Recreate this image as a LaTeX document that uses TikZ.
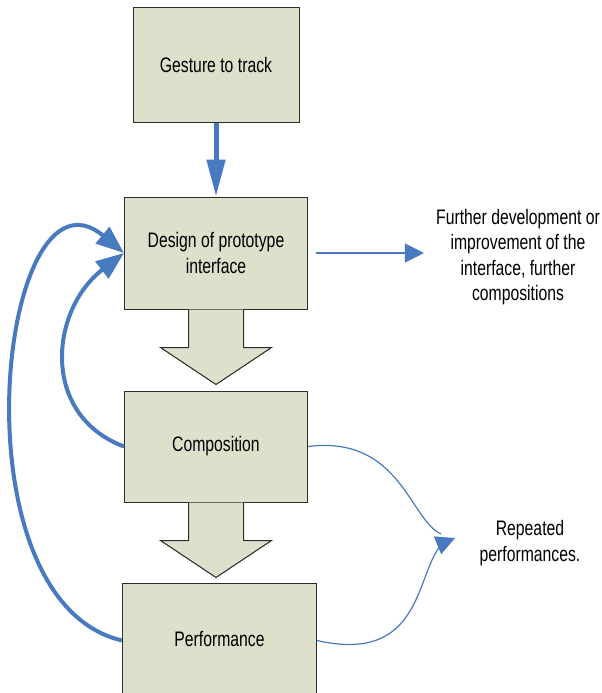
\documentclass[tikz,border=0pt]{standalone}
\usepackage{fontspec}
\setmainfont{Liberation Sans}
\usepackage{graphicx}
\usepackage{tikz}
\usetikzlibrary{positioning,arrows.meta,calc}
\definecolor{boxfill}{RGB}{221,224,203}
\definecolor{boxline}{RGB}{45,45,45}
\definecolor{flowblue}{RGB}{72,122,192}
\newcommand{\nw}[1]{\scalebox{0.75}[1]{#1}}
\tikzset{
  blk/.style   ={draw=boxline,fill=boxfill,line width=1pt,align=center,font=\fontsize{21}{25.5}\selectfont,inner sep=0pt},
  txt/.style   ={align=center,font=\fontsize{21}{25.5}\selectfont,inner sep=0pt},
  blkar/.style ={draw=boxline,fill=boxfill,line width=1pt,line join=miter},
  bar/.style   ={-{Triangle[length=37pt,width=18pt]},draw=flowblue,line width=5pt},
  ar/.style    ={-{Triangle[length=28pt,width=21pt]},draw=flowblue,line width=4pt},
  thinar/.style={-{Triangle[length=19pt,width=19pt]},draw=flowblue,line width=1.2pt},
}
\begin{document}
\begin{tikzpicture}[x=1pt,y=-1pt]
\useasboundingbox (0,0) rectangle (602,693);
\node[blk,minimum width=166pt,minimum height=114pt] (gest) at (216,65) {\nw{Gesture to track}};
\node[blk,minimum width=183pt,minimum height=112pt,below=74pt of gest] (des) {\nw{Design of prototype}\\\nw{interface}};
\node[blk,minimum width=183pt,minimum height=111pt,below=81pt of des] (comp) {\nw{Composition}};
\node[blk,minimum width=194pt,minimum height=125pt,text depth=14pt,below=80pt of comp,xshift=3.5pt] (perf) {\nw{Performance}};
\node[txt] (fut) at (518,257) {\nw{Further development or}\\\nw{improvement of the}\\\nw{interface, further}\\\nw{compositions}};
\coordinate (mrg) at (455,538);
\node[txt] (rep) at (530,543) {\nw{Repeated}\\\nw{performances.}};
% block arrows between the stages
\foreach \a in {des,comp}
  \draw[blkar] ($(\a.south)+(-27.5,0)$) -- ++(0,38) -- ++(-28,0) -- ($(\a.south)+(0,75)$)
    -- ($(\a.south)+(55.5,38)$) -- ++(-28,0) -- ($(\a.south)+(27.5,0)$);
\draw[bar] (gest) -- (des);
\draw[ar] (comp.west) .. controls (40,415) and (50,310) .. (des.west);
\draw[ar] ([yshift=5pt]perf.west) .. controls (-50,600) and (0,150) .. (des.west);
\draw[thinar] ([xshift=8pt]des.east) -- ([xshift=-12pt]des.east -| fut.west);
\draw[draw=flowblue,line width=1.2pt] (comp.east) .. controls (400,435) and (410,520) .. ($(mrg)+(-14,-4)$);
\draw[thinar] ([yshift=5pt]perf.east) .. controls (425,665) and (415,570) .. ($(mrg)+(-12,5)$) -- (mrg);
\end{tikzpicture}
\end{document}
